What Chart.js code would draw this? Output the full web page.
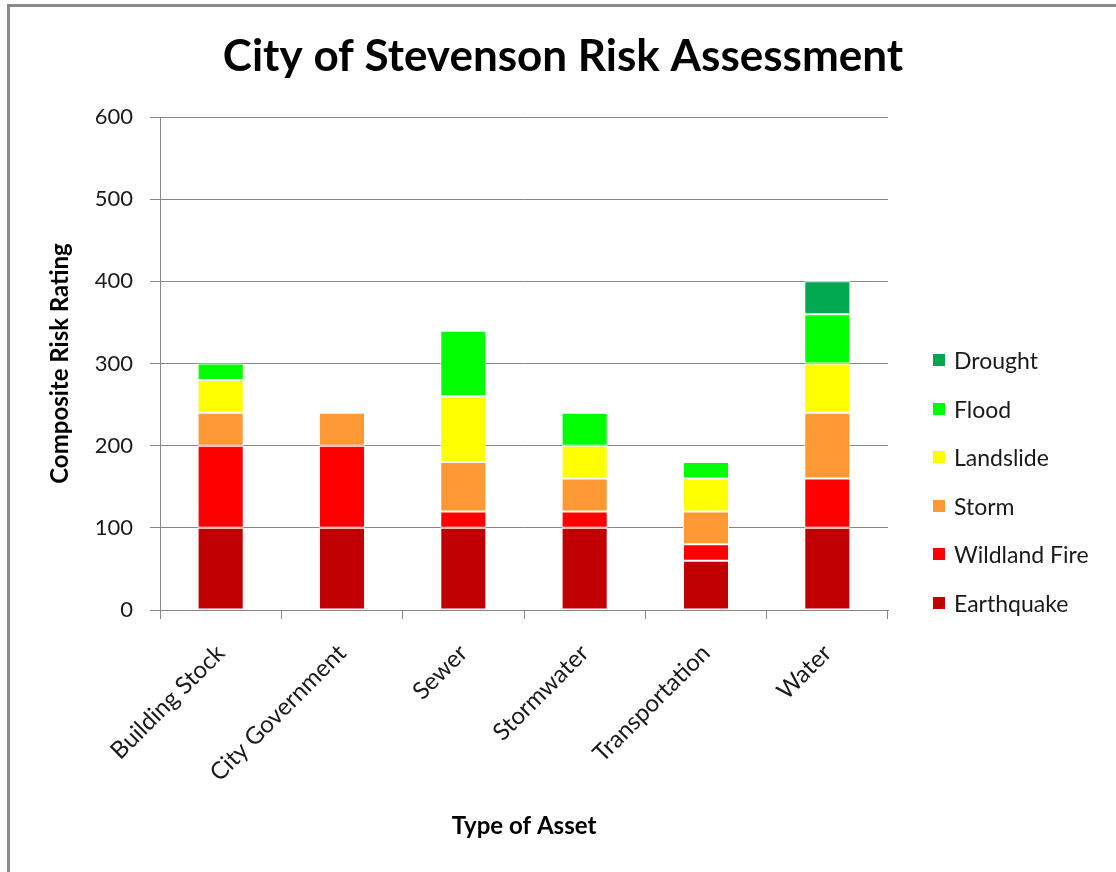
<!DOCTYPE html>
<html>
<head>
<meta charset="utf-8">
<title>City of Stevenson Risk Assessment</title>
<script src="https://cdn.jsdelivr.net/npm/chart.js@4.4.1/dist/chart.umd.min.js"></script>
<style>
    html, body { margin: 0; padding: 0; background: #fff; overflow: hidden; }
    #frame {
        position: absolute; left: 7px; top: 4px;
        width: 1200px; height: 1000px;
        border-top: 3px solid #8a8a8a; border-left: 3px solid #8a8a8a;
    }
    #wrap { position: absolute; left: 0; top: 0; width: 1106px; height: 865px; }
    #legend {
        position: absolute; left: 923px; top: 329px;
        margin: 0; padding: 0; list-style: none;
        font-family: Lato, "Open Sans", sans-serif; font-size: 23px; color: #1a1a1a;
    }
    #legend li { height: 48.5px; display: flex; align-items: center; white-space: nowrap; }
    #legend .box { display: inline-block; width: 12px; height: 12px; margin-right: 9px; }
</style>
</head>
<body>
<div id="frame">
    <div id="wrap"><canvas id="risk-chart"></canvas></div>
    <ul id="legend"></ul>
</div>
<script>
// Composite risk rating per asset type, one array per hazard
const assetTypes = ['Building Stock', 'City Government', 'Sewer', 'Stormwater', 'Transportation', 'Water'];
const earthquake   = [100, 100, 100, 100, 60, 100];
const wildlandFire = [100, 100, 20, 20, 20, 60];
const storm        = [40, 40, 60, 40, 40, 80];
const landslide    = [40, 0, 80, 40, 40, 60];
const flood        = [20, 0, 80, 40, 20, 60];
const drought      = [0, 0, 0, 0, 0, 40];
const riskTicks    = [0, 100, 200, 300, 400, 500, 600];

const hazards = [
    { label: 'Earthquake',    data: earthquake,   color: '#C00000' },
    { label: 'Wildland Fire', data: wildlandFire, color: '#FF0000' },
    { label: 'Storm',         data: storm,        color: '#FF9933' },
    { label: 'Landslide',     data: landslide,    color: '#FFFF00' },
    { label: 'Flood',         data: flood,        color: '#00FF00' },
    { label: 'Drought',       data: drought,      color: '#00A84F' }
];

const FONT = 'Lato, "Open Sans", sans-serif';
const AXIS_GREY = '#878787';

/**
 * Build the legend as a plain list beside the canvas, top hazard first
 */
const htmlLegend = {
    id: 'htmlLegend',
    afterUpdate(chart) {
        const list = document.getElementById('legend');
        list.innerHTML = '';
        const items = chart.options.plugins.legend.labels.generateLabels(chart).reverse();
        items.forEach(item => {
            const li = document.createElement('li');
            const box = document.createElement('span');
            box.className = 'box';
            box.style.background = item.fillStyle;
            li.appendChild(box);
            li.appendChild(document.createTextNode(item.text));
            list.appendChild(li);
        });
    }
};

const ctx = document.getElementById('risk-chart').getContext('2d');

const riskChart = new Chart(ctx, {
    type: 'bar',
    data: {
        labels: assetTypes,
        datasets: hazards.map(h => ({
            label: h.label,
            data: h.data,
            backgroundColor: h.color,
            borderColor: '#ffffff',
            borderWidth: 1,
            borderSkipped: false,
            barPercentage: 0.38,
            categoryPercentage: 1
        }))
    },
    options: {
        responsive: true,
        maintainAspectRatio: false,
        animation: false,
        plugins: {
            legend: { display: false },
            tooltip: { enabled: false },
            title: {
                display: true,
                text: 'City of Stevenson Risk Assessment',
                color: '#000',
                font: { family: FONT, size: 44, weight: 'bold' },
                padding: { top: 23.6, bottom: 33.6 }
            }
        },
        scales: {
            x: {
                stacked: true,
                grid: {
                    offset: true,
                    drawOnChartArea: false,
                    drawTicks: true,
                    tickLength: 9,
                    color: AXIS_GREY
                },
                border: { color: AXIS_GREY },
                ticks: {
                    minRotation: 45,
                    maxRotation: 45,
                    padding: 20,
                    color: '#1a1a1a',
                    font: { family: FONT, size: 24 }
                },
                title: {
                    display: true,
                    text: 'Type of Asset',
                    color: '#000',
                    font: { family: FONT, size: 24, weight: 'bold' },
                    padding: { top: 0, bottom: 31.6 }
                },
                afterFit(scale) { scale.height = 262; }
            },
            y: {
                stacked: true,
                min: riskTicks[0],
                max: riskTicks[riskTicks.length - 1],
                ticks: {
                    stepSize: riskTicks[1] - riskTicks[0],
                    padding: 17,
                    color: '#1a1a1a',
                    font: { family: FONT, size: 22 }
                },
                grid: { color: AXIS_GREY, tickLength: 10 },
                border: { color: AXIS_GREY },
                title: {
                    display: true,
                    text: 'Composite Risk Rating',
                    color: '#000',
                    font: { family: FONT, size: 24, weight: 'bold' },
                    padding: { top: 35.6, bottom: 0 }
                },
                afterFit(scale) { scale.width = 150; }
            },
            // empty right-hand axis that keeps room for the legend list
            legendGutter: {
                type: 'linear',
                position: 'right',
                display: true,
                grid: { display: false },
                border: { display: false },
                ticks: { display: false },
                afterFit(scale) { scale.width = 228; }
            }
        }
    },
    plugins: [htmlLegend]
});
</script>
</body>
</html>
